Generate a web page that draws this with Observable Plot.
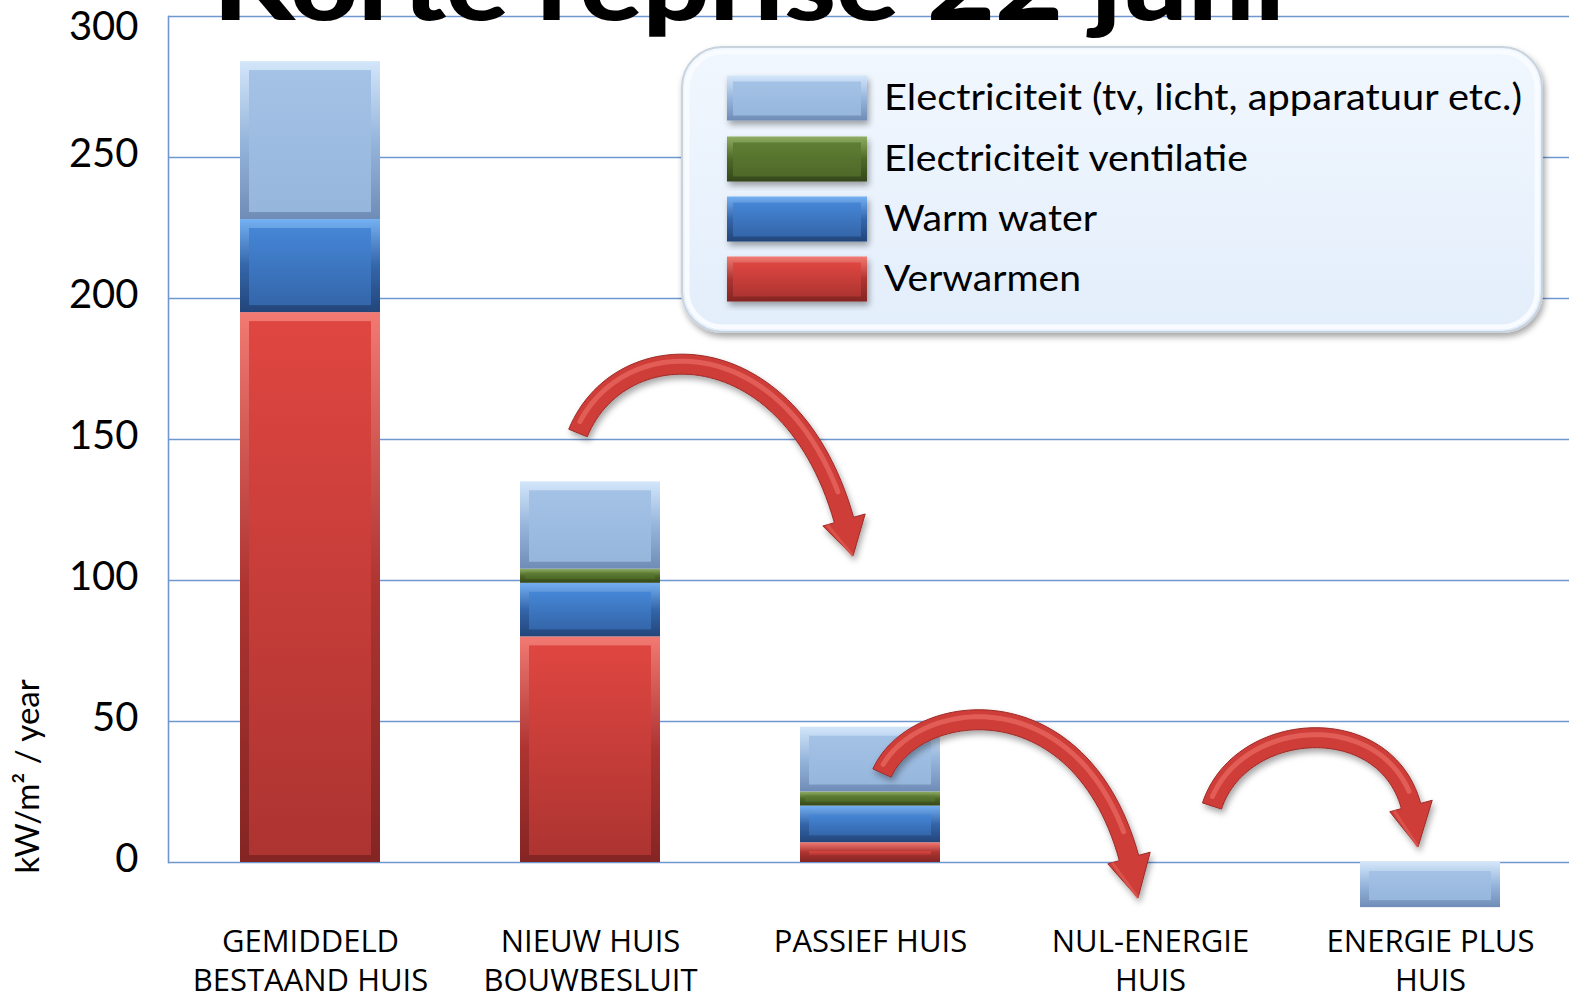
<!DOCTYPE html>
<html><head><meta charset="utf-8">
<script src="https://cdn.jsdelivr.net/npm/d3@7"></script>
<script src="https://cdn.jsdelivr.net/npm/@observablehq/plot@0.6"></script>
<style>
html,body{margin:0;padding:0;background:#fff;}
#wrap{position:relative;width:1569px;height:1001px;overflow:hidden;background:#fff;}
#wrap svg{position:absolute;left:0;top:0;}
#overlay{pointer-events:none;}
</style></head><body><div id="wrap"></div>
<script>
// ---- data ----
const categories = ["GEMIDDELD\nBESTAAND HUIS", "NIEUW HUIS\nBOUWBESLUIT", "PASSIEF HUIS", "NUL-ENERGIE\nHUIS", "ENERGIE PLUS\nHUIS"];
const series = ["Verwarmen", "Warm water", "Electriciteit ventilatie", "Electriciteit (tv, licht, apparatuur etc.)"];
const verwarmen     = [195, 80, 7, 0, 0];
const warmWater     = [33, 19, 13, 0, 0];
const ventilatie    = [0, 5, 5, 0, 0];
const electriciteit = [56, 31, 23, 0, -16];
const yTicks = [0, 50, 100, 150, 200, 250, 300];
const legendOrder = ["Electriciteit (tv, licht, apparatuur etc.)", "Electriciteit ventilatie", "Warm water", "Verwarmen"];
const yLabel = "kW/m² / year";
const title = "Korte reprise 22 juni";

// ---- styles ----
const palette = {
  "Electriciteit (tv, licht, apparatuur etc.)": {light:"#d3e6fa", f1:"#a4c2e6", f2:"#97b6dc", dark:"#6f8cb6"},
  "Electriciteit ventilatie": {light:"#8fad62", f1:"#5f7e34", f2:"#4e6928", dark:"#34471a"},
  "Warm water": {light:"#74b0f2", f1:"#4586d6", f2:"#3466aa", dark:"#23457a"},
  "Verwarmen": {light:"#f27a73", f1:"#df4641", f2:"#ad3431", dark:"#842523"}
};
const key = s => series.indexOf(s);

// ---- table for the library (manual stacking) ----
const valuesBySeries = [verwarmen, warmWater, ventilatie, electriciteit];
const rows = [];
categories.forEach((c, i) => {
  let pos = 0, neg = 0;
  valuesBySeries.forEach((vals, s) => {
    const v = vals[i];
    if (!v) return;
    if (v > 0) { rows.push({cat: c, series: series[s], y1: pos, y2: pos + v}); pos += v; }
    else { rows.push({cat: c, series: series[s], y1: neg, y2: neg + v}); neg += v; }
  });
});

function makeDefs(svgSel, prefix) {
  const defs = svgSel.insert("defs", ":first-child");
  series.forEach(s => {
    const p = palette[s], k = key(s);
    const e = defs.append("linearGradient").attr("id", `${prefix}edge${k}`).attr("x1",0).attr("y1",0).attr("x2",0).attr("y2",1);
    e.append("stop").attr("offset","0").attr("stop-color", p.light);
    e.append("stop").attr("offset","0.5").attr("stop-color", p.f2);
    e.append("stop").attr("offset","1").attr("stop-color", p.dark);
    const f = defs.append("linearGradient").attr("id", `${prefix}face${k}`).attr("x1",0).attr("y1",0).attr("x2",0).attr("y2",1);
    f.append("stop").attr("offset","0").attr("stop-color", p.f1);
    f.append("stop").attr("offset","1").attr("stop-color", p.f2);
  });
  const sh = defs.append("filter").attr("id", `${prefix}shadow`).attr("x","-20%").attr("y","-20%").attr("width","140%").attr("height","140%");
  sh.append("feDropShadow").attr("dx",2).attr("dy",4).attr("stdDeviation",3).attr("flood-color","#000").attr("flood-opacity",0.35);
  const ag = defs.append("linearGradient").attr("id", `${prefix}legbg`).attr("x1",0).attr("y1",0).attr("x2",0).attr("y2",1);
  ag.append("stop").attr("offset","0").attr("stop-color","#f1f7fe");
  ag.append("stop").attr("offset","1").attr("stop-color","#e3eefb");
  return defs;
}

const thick = d => d.series !== "Electriciteit ventilatie";
const thin = d => d.series === "Electriciteit ventilatie";
const topTick = yTicks.slice(-1);
const otherTicks = yTicks.slice(0, -1);

const chart = Plot.plot({
  width: 1569, height: 1001,
  marginLeft: 168, marginRight: 0, marginTop: 16, marginBottom: 139,
  style: {fontFamily: "Lato, 'Open Sans', sans-serif", color: "#000", background: "transparent"},
  x: {domain: categories, range: [170, 1570], paddingInner: 0.5, paddingOuter: 0.25},
  y: {domain: [0, 300]},
  color: {type: "identity"},
  marks: [
    Plot.ruleY(yTicks, {stroke: "#6f97cf", strokeWidth: 1.6}),
    Plot.frame({anchor: "left", stroke: "#6f97cf", strokeWidth: 1.6}),
    Plot.barY(rows, {x: "cat", y1: "y1", y2: "y2", fill: d => `url(#pedge${key(d.series)})`, ariaLabel: "bar-edge"}),
    Plot.barY(rows, {filter: thick, x: "cat", y1: "y1", y2: "y2", fill: d => `url(#pface${key(d.series)})`, insetLeft: 9, insetRight: 9, insetTop: 9, insetBottom: 7}),
    Plot.barY(rows, {filter: thin, x: "cat", y1: "y1", y2: "y2", fill: d => `url(#pface${key(d.series)})`, insetLeft: 5, insetRight: 5, insetTop: 4, insetBottom: 4}),
    Plot.axisY(otherTicks, {tickSize: 0, tickPadding: 30, fontSize: 40, label: null, dy: -3}),
    Plot.axisY(topTick, {tickSize: 0, tickPadding: 30, fontSize: 40, label: null, dy: 11}),
    Plot.axisX({tickSize: 0, tickPadding: 61, fontSize: 31, lineHeight: 1.28, label: null, fontFamily: "'Open Sans', Lato, sans-serif"}),
    Plot.text([yLabel], {frameAnchor: "bottom-left", dx: -140, dy: 11, rotate: -90, textAnchor: "start", fontSize: 33, lineAnchor: "middle"})
  ]
});
document.getElementById("wrap").appendChild(chart);
const csel = d3.select(chart);
makeDefs(csel, "p");
csel.select('g[aria-label="bar-edge"]').attr("filter", "url(#pshadow)");

// ---- overlay: title, legend, arrows ----
const ov = d3.select("#wrap").append("svg").attr("id","overlay").attr("width",1569).attr("height",1001);
makeDefs(ov, "o");

ov.append("text").text(title)
  .attr("x", 213).attr("y", 20)
  .attr("font-family", "Lato, 'Open Sans', sans-serif").attr("font-weight", 900).attr("font-size", 100)
  .attr("textLength", 1072).attr("lengthAdjust", "spacingAndGlyphs").attr("fill", "#000");

// legend
const lg = ov.append("g");
lg.append("rect").attr("x",682).attr("y",47).attr("width",860).attr("height",285).attr("rx",40)
  .attr("fill","url(#olegbg)").attr("stroke","#c9d3dd").attr("stroke-width",2).attr("filter","url(#oshadow)");
lg.append("rect").attr("x",687).attr("y",52).attr("width",850).attr("height",275).attr("rx",36)
  .attr("fill","none").attr("stroke","#f8fbff").attr("stroke-width",5);
const legendRowY = [98, 159, 219, 279];
const legendTextLen = [638, 364, 213, 197];
legendOrder.forEach((s, i) => {
  const cy = legendRowY[i], k = key(s);
  lg.append("rect").attr("x",727).attr("y",cy-22.5).attr("width",140).attr("height",45)
    .attr("fill",`url(#oedge${k})`).attr("filter","url(#oshadow)");
  lg.append("rect").attr("x",733).attr("y",cy-16.5).attr("width",128).attr("height",34)
    .attr("fill",`url(#oface${k})`);
  lg.append("text").text(s).attr("x",884).attr("y",cy+12)
    .attr("font-family","Lato, 'Open Sans', sans-serif").attr("font-size",36).attr("fill","#000")
    .attr("textLength",legendTextLen[i]).attr("lengthAdjust","spacingAndGlyphs");
});

// decorative curved arrows
const arrows = [
  {p: [[578,433],[620,330],[790,330],[844,520]], tip: [853,556]},
  {p: [[882,773],[915,700],[1080,680],[1129,858]], tip: [1138,898]},
  {p: [[1212,806],[1240,720],[1385,710],[1411,806]], tip: [1418,847]}
];
function bez(P, t) {
  const u = 1 - t;
  return [u*u*u*P[0][0] + 3*u*u*t*P[1][0] + 3*u*t*t*P[2][0] + t*t*t*P[3][0],
          u*u*u*P[0][1] + 3*u*u*t*P[1][1] + 3*u*t*t*P[2][1] + t*t*t*P[3][1]];
}
function bezD(P, t) {
  const u = 1 - t;
  const dx = 3*u*u*(P[1][0]-P[0][0]) + 6*u*t*(P[2][0]-P[1][0]) + 3*t*t*(P[3][0]-P[2][0]);
  const dy = 3*u*u*(P[1][1]-P[0][1]) + 6*u*t*(P[2][1]-P[1][1]) + 3*t*t*(P[3][1]-P[2][1]);
  const l = Math.hypot(dx, dy);
  return [dx/l, dy/l];
}
const ag = ov.append("g").attr("filter","url(#oshadow)");
arrows.forEach(a => {
  const N = 60, w = 10, hw = 22;
  const L = [], R = [], C = [];
  for (let i = 0; i <= N; i++) {
    const t = i / N, pt = bez(a.p, t), d = bezD(a.p, t), n = [-d[1], d[0]];
    L.push([pt[0] + n[0]*w, pt[1] + n[1]*w]);
    R.push([pt[0] - n[0]*w, pt[1] - n[1]*w]);
    C.push([pt[0] - n[0]*3, pt[1] - n[1]*3]);
  }
  const E = bez(a.p, 1), d = bezD(a.p, 1), n = [-d[1], d[0]];
  const pts = [...L, [E[0]+n[0]*hw, E[1]+n[1]*hw], a.tip, [E[0]-n[0]*hw, E[1]-n[1]*hw], ...R.reverse()];
  ag.append("path").attr("d", "M" + pts.map(p => p.join(",")).join("L") + "Z")
    .attr("fill", "#cf3d38").attr("stroke", "#9c2a27").attr("stroke-width", 1);
  ag.append("path").attr("d", "M" + C.slice(2, N-2).map(p => p.join(",")).join("L"))
    .attr("fill","none").attr("stroke","#e86b65").attr("stroke-width",5).attr("stroke-linecap","round").attr("opacity",0.7);
  ag.append("path").attr("d", `M${E[0]+n[0]*hw*0.8},${E[1]+n[1]*hw*0.8}L${a.tip[0]},${a.tip[1]}`)
    .attr("stroke","#e2605a").attr("stroke-width",3).attr("opacity",0.6);
});
</script></body></html>
